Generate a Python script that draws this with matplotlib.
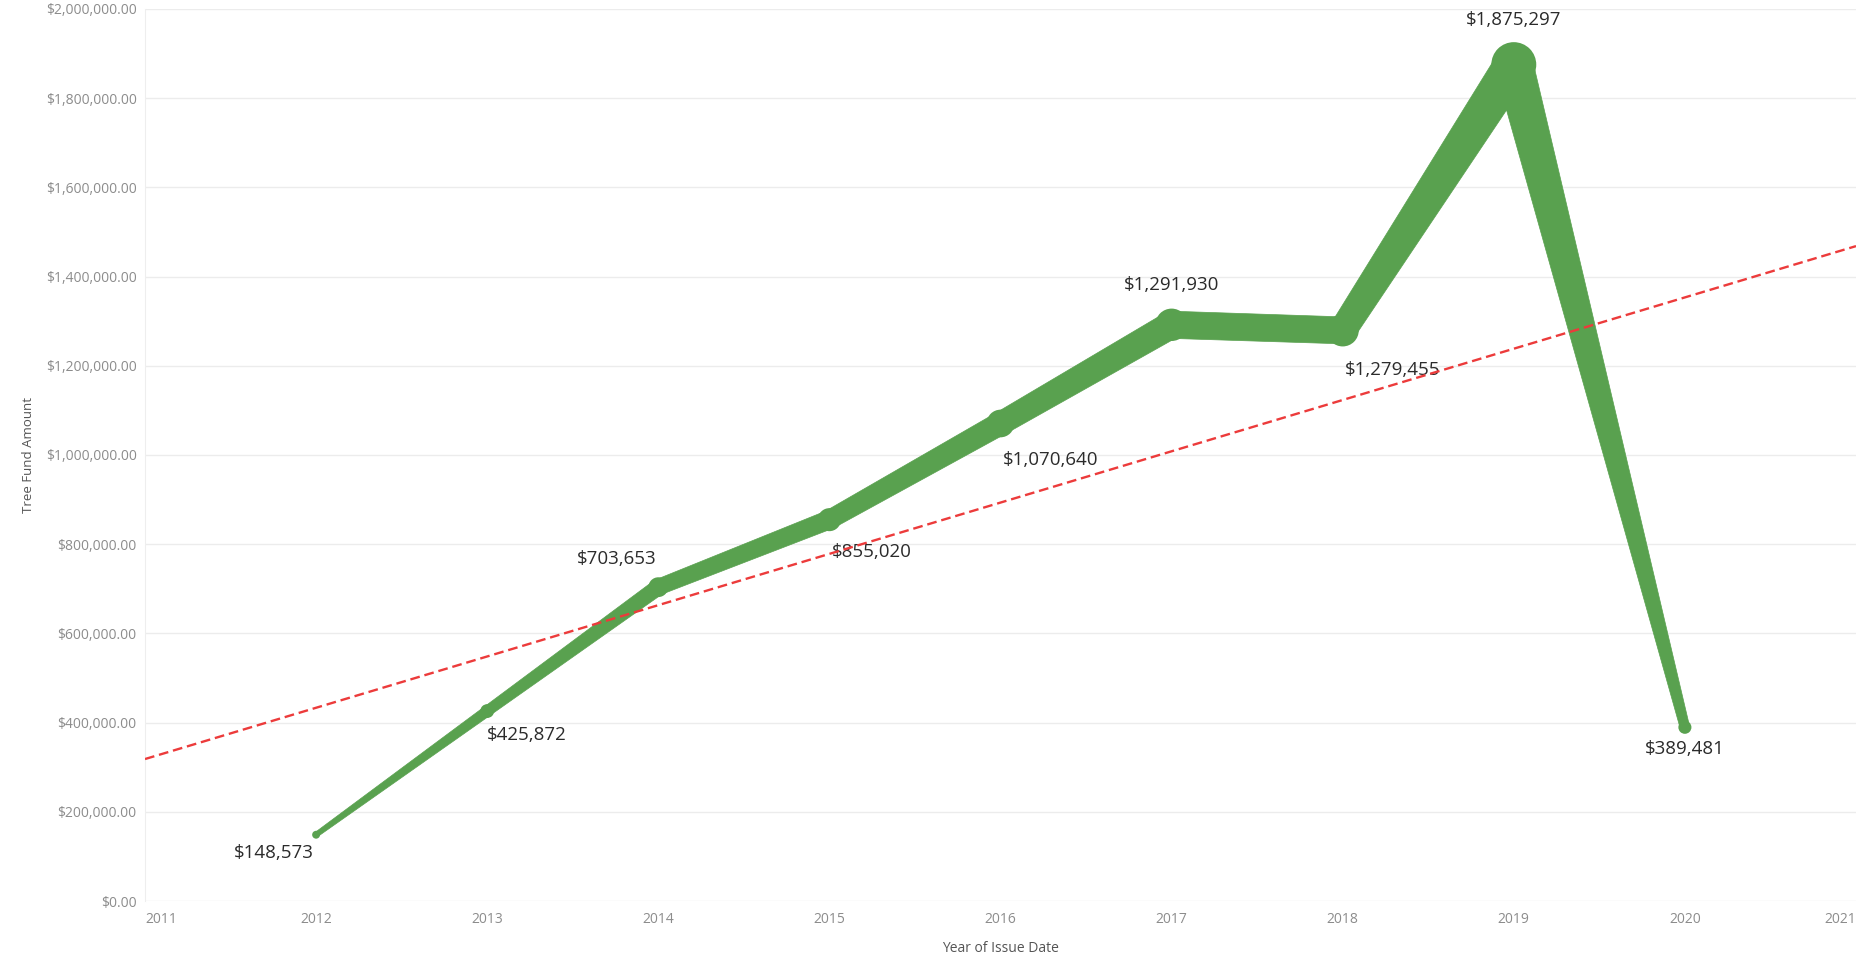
import numpy as np
import matplotlib
matplotlib.use("Agg")
import matplotlib.pyplot as plt
from matplotlib.patches import Polygon

plt.rcParams['font.family'] = ['Open Sans', 'DejaVu Sans']
plt.rcParams['lines.scale_dashes'] = False

# data
years = [2012, 2013, 2014, 2015, 2016, 2017, 2018, 2019, 2020]
fund = [148573, 425872, 703653, 855020, 1070640, 1291930, 1279455, 1875297, 389481]
labels = ["$148,573", "$425,872", "$703,653", "$855,020", "$1,070,640",
          "$1,291,930", "$1,279,455", "$1,875,297", "$389,481"]

# label offsets in pixels from each point (layout only)
label_offsets = [(-42, -18), (40, -24), (-42, 28), (42, -32), (50, -37),
                 (0, 40), (50, -40), (0, 45), (0, -22)]

green = "#59a14f"
red = "#ec3b3b"

DPI = 100
fig = plt.figure(figsize=(18.62, 9.60), dpi=DPI)
ax = fig.add_axes([145 / 1862, 59 / 960, (1856 - 145) / 1862, (901 - 9) / 960])

ax.set_xlim(2011, 2021)
ax.set_ylim(0, 2000000)

yt = np.arange(0, 2000001, 200000)
ax.set_yticks(yt)
ax.set_yticklabels(["${:,.2f}".format(v) for v in yt])
xt = list(range(2011, 2022))
ax.set_xticks(xt)
ax.set_xticklabels([str(x) for x in xt])
xl = ax.get_xticklabels()
xl[0].set_ha('left')
xl[-1].set_ha('right')

ax.tick_params(length=0, labelsize=10, labelcolor="#8c8c8c")
ax.tick_params(axis='y', pad=6)
ax.tick_params(axis='x', pad=8)
ax.grid(axis='y', color="#ececec", lw=1)
ax.set_axisbelow(True)
for s in ['top', 'right', 'bottom']:
    ax.spines[s].set_visible(False)
ax.spines['left'].set_color("#eeeeee")

ax.set_xlabel("Year of Issue Date", fontsize=10, color="#555555", labelpad=10)
ax.set_ylabel("Tree Fund Amount", fontsize=9.5, color="#555555", labelpad=8)

# line width in pixels grows with the value (like Tableau's size encoding)
widths = [2 + 19.5 * v / 1e6 for v in fund]

pts = ax.transData.transform(np.column_stack([years, fund]))
inv = ax.transData.inverted()
for i in range(len(years) - 1):
    p0, p1 = pts[i], pts[i + 1]
    d = p1 - p0
    d = d / np.hypot(*d)
    n = np.array([-d[1], d[0]])
    quad = [p0 + n * widths[i] / 2, p1 + n * widths[i + 1] / 2,
            p1 - n * widths[i + 1] / 2, p0 - n * widths[i] / 2]
    ax.add_patch(Polygon(inv.transform(quad), closed=True, fc=green, ec=green,
                         lw=0.5, zorder=3))
# point markers a touch wider than the line, giving the small knobs
ax.scatter(years, fund, s=[((w * 1.1 + 2.5) * 72 / DPI) ** 2 for w in widths],
           c=green, edgecolors='none', zorder=4)

for x, y, t, off in zip(years, fund, labels, label_offsets):
    ax.annotate(t, (x, y), xytext=off, textcoords='offset pixels',
                ha='center', va='center', fontsize=13.5, color="#2b2b2b", zorder=5)

# linear trend line
slope, icpt = np.polyfit(years, fund, 1)
tx = np.array([2011, 2021])
ax.plot(tx, slope * tx + icpt, color=red, lw=1.7, dashes=(7, 3.5), zorder=6)

fig.savefig("out.png", dpi=DPI)
